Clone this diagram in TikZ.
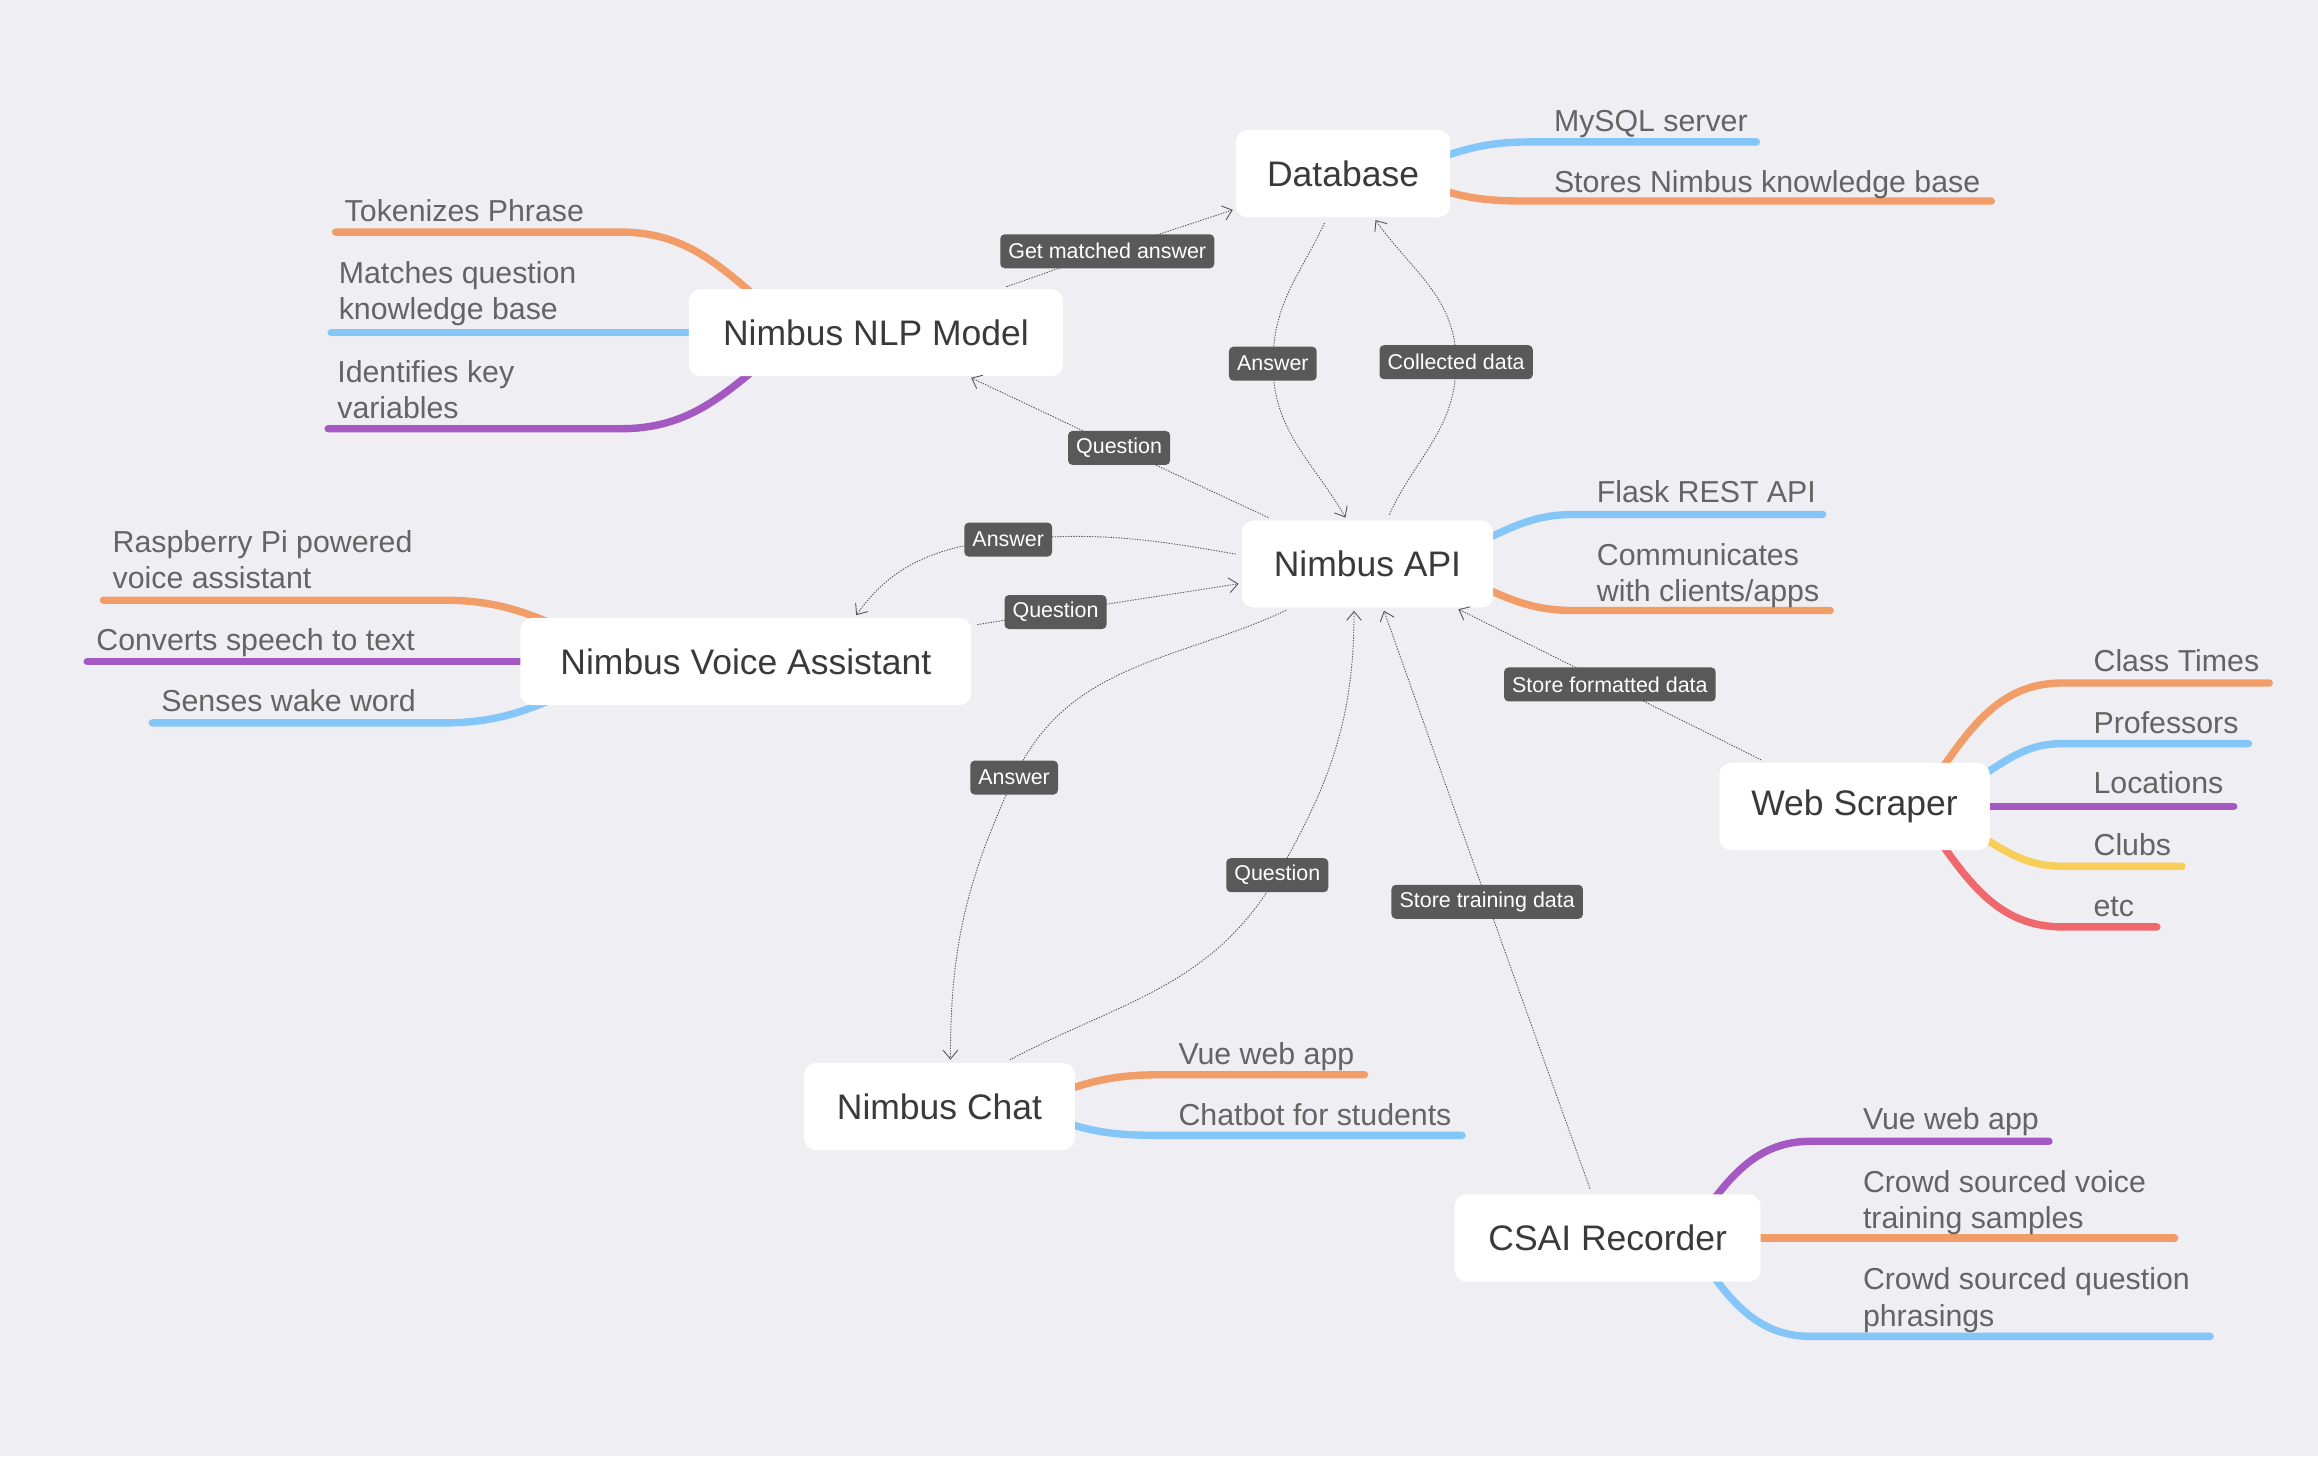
\documentclass[tikz,border=0pt]{standalone}
\usepackage{fontspec}
\setmainfont{Liberation Sans}
\usetikzlibrary{arrows.meta,calc}
\definecolor{bgc}{RGB}{239,238,243}
\definecolor{nodetext}{RGB}{58,58,58}
\definecolor{subtext}{RGB}{100,100,100}
\definecolor{lblfill}{RGB}{89,89,89}
\definecolor{conn}{RGB}{85,85,85}
\definecolor{bOrange}{RGB}{242,156,104}
\definecolor{bBlue}{RGB}{133,198,248}
\definecolor{bPurple}{RGB}{163,88,194}
\definecolor{bYellow}{RGB}{247,206,88}
\definecolor{bRed}{RGB}{238,104,110}
\pgfdeclarelayer{back}\pgfdeclarelayer{bg}\pgfsetlayers{back,bg,main}
\begin{document}
\begin{tikzpicture}[x=1pt,y=-1pt,
 topic/.style={fill=white, rounded corners=8pt, minimum height=59pt, inner xsep=0pt, inner ysep=0pt, text=nodetext, font=\fontsize{24}{28}\selectfont},
 leaf/.style={anchor=base west, inner sep=0pt, text=subtext, align=left, font=\fontsize{20.5}{24.5}\selectfont},
 lbl/.style={fill=lblfill, text=white, rounded corners=3pt, inner xsep=5.5pt, inner ysep=0pt, minimum height=23pt, font=\fontsize{14.5}{17}\selectfont},
 link/.style={draw=conn, line width=0.6pt, dash pattern=on 0.9pt off 0.9pt, -{Straight Barb[length=6pt,width=10pt]}, shorten <=4pt, shorten >=2pt},
 br/.style={line width=5pt, line cap=round}]
\begin{pgfonlayer}{back}
\fill[bgc] (0,0) rectangle (1568,985);
\end{pgfonlayer}
\useasboundingbox (0,0) rectangle (1568,985);

% main topics
\node[topic, minimum width=145pt] (db) at (908.5,117.5) {Database};
\node[topic, minimum width=253pt] (nlp) at (592.5,225) {Nimbus NLP Model};
\node[topic, minimum width=170pt] (api) at (925,381.5) {Nimbus API};
\node[topic, minimum width=305pt] (voice) at (504.5,447.5) {Nimbus Voice Assistant};
\node[topic, minimum width=183pt] (ws) at (1254.5,545.5) {Web Scraper};
\node[topic, minimum width=183pt] (chat) at (635.5,748.5) {Nimbus Chat};
\node[topic, minimum width=207pt] (csai) at (1087.5,837.5) {CSAI Recorder};

% leaf texts (base = baseline of last line)
\node[leaf] (t1) at (1051,89) {MySQL server};
\node[leaf] (t2) at (1051,130) {Stores Nimbus knowledge base};
\node[leaf] (t3) at (233,150) {Tokenizes Phrase};
\node[leaf] (t4) at (229,216) {Matches question\\knowledge base};
\node[leaf] (t5) at (228,283) {Identifies key\\variables};
\node[leaf] (t6) at (1080,340) {Flask REST API};
\node[leaf] (t7) at (1080,407) {Communicates\\with clients/apps};
\node[leaf] (t8) at (76,398) {Raspberry Pi powered\\voice assistant};
\node[leaf] (t9) at (65,440) {Converts speech to text};
\node[leaf] (t10) at (109,481) {Senses wake word};
\node[leaf] (t11) at (1416,454) {Class Times};
\node[leaf] (t12) at (1416,496) {Professors};
\node[leaf] (t13) at (1416,537) {Locations};
\node[leaf] (t14) at (1416,579) {Clubs};
\node[leaf] (t15) at (1416,620) {etc};
\node[leaf] (t16) at (797,720) {Vue web app};
\node[leaf] (t17) at (797,761) {Chatbot for students};
\node[leaf] (t18) at (1260,764) {Vue web app};
\node[leaf] (t19) at (1260,831) {Crowd sourced voice\\training samples};
\node[leaf] (t20) at (1260,897) {Crowd sourced question\\phrasings};

% branches
\begin{pgfonlayer}{bg}
\draw[br,bBlue] ($(db.east)+(-15,-8)$) to[out=20,in=180] (1035,96) -- (1188,96);
\draw[br,bOrange] ($(db.east)+(-15,8)$) to[out=-20,in=180] (1035,136) -- (1347,136);
\draw[br,bOrange] ($(nlp.west)+(60,-12)$) to[out=140,in=0] (420,157) -- (227,157);
\draw[br,bBlue] ($(nlp.west)+(20,0)$) -- (224,225);
\draw[br,bPurple] ($(nlp.west)+(60,12)$) to[out=-140,in=0] (420,290) -- (222,290);
\draw[br,bBlue] ($(api.east)+(-15,-12)$) to[out=25,in=180] (1065,348) -- (1233,348);
\draw[br,bOrange] ($(api.east)+(-15,12)$) to[out=-25,in=180] (1065,413) -- (1238,413);
\draw[br,bOrange] ($(voice.west)+(45,-15)$) to[out=155,in=0] (300,406) -- (70,406);
\draw[br,bPurple] ($(voice.west)+(15,0)$) -- (59,447.5);
\draw[br,bBlue] ($(voice.west)+(45,15)$) to[out=-155,in=0] (300,489) -- (103,489);
\draw[br,bOrange] ($(ws.east)+(-40,-15)$) to[out=55,in=180] (1395,462) -- (1535,462);
\draw[br,bBlue] ($(ws.east)+(-15,-15)$) to[out=30,in=180] (1395,503) -- (1521,503);
\draw[br,bPurple] ($(ws.east)+(-10,0)$) -- (1511,545.5);
\draw[br,bYellow] ($(ws.east)+(-15,15)$) to[out=-30,in=180] (1395,586) -- (1476,586);
\draw[br,bRed] ($(ws.east)+(-40,15)$) to[out=-55,in=180] (1395,627) -- (1459,627);
\draw[br,bOrange] ($(chat.east)+(-15,-8)$) to[out=20,in=180] (785,727) -- (923,727);
\draw[br,bBlue] ($(chat.east)+(-15,8)$) to[out=-20,in=180] (785,768) -- (989,768);
\draw[br,bPurple] ($(csai.east)+(-40,-15)$) to[out=55,in=180] (1225,772) -- (1386,772);
\draw[br,bOrange] ($(csai.east)+(-10,0)$) -- (1471,837.5);
\draw[br,bBlue] ($(csai.east)+(-40,15)$) to[out=-55,in=180] (1225,904) -- (1495,904);
\end{pgfonlayer}

% connector waypoints (label positions)
\coordinate (c1) at (749,170);
\coordinate (c2) at (861,246);
\coordinate (c3) at (985,245);
\coordinate (c4) at (757,303);
\coordinate (c5) at (682,365);
\coordinate (c6) at (714,414);
\coordinate (c7) at (686,526);
\coordinate (c8) at (864,592);
\coordinate (c9) at (1006,610);
\coordinate (c10) at (1089,463);

% connectors
\draw[link] (nlp) -- (c1) -- (db);
\draw[link] (db.-110) to[out=-115,in=90] (c2) to[out=-90,in=120] (api.115);
\draw[link] (api.66) to[out=66,in=-90] (c3) to[out=90,in=-55] (db.-55);
\draw[link] (api) -- (c4) -- (nlp);
\draw[link] (api.176) to[out=170,in=5] (c5) to[out=185,in=55] (voice.22);
\draw[link] (voice) -- (c6) -- (api);
\draw[link] (api.-150) to[out=-155,in=65] (c7) to[out=-115,in=90] (chat.76);
\draw[link] (chat.34) to[out=28,in=-120] (c8) to[out=60,in=-90] (api.-107);
\draw[link] (csai) -- (c9) -- (api);
\draw[link] (ws) -- (c10) -- (api);

% connector labels
\node[lbl] (e1) at (c1) {Get matched answer};
\node[lbl] (e2) at (c2) {Answer};
\node[lbl] (e3) at (c3) {Collected data};
\node[lbl] (e4) at (c4) {Question};
\node[lbl] (e5) at (c5) {Answer};
\node[lbl] (e6) at (c6) {Question};
\node[lbl] (e7) at (c7) {Answer};
\node[lbl] (e8) at (c8) {Question};
\node[lbl] (e9) at (c9) {Store training data};
\node[lbl] (e10) at (c10) {Store formatted data};
\end{tikzpicture}
\end{document}
